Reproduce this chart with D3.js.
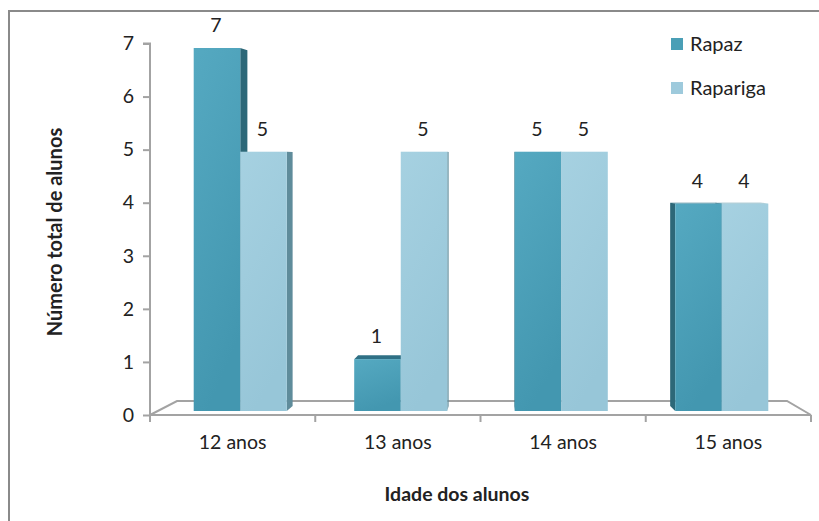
<!DOCTYPE html>
<html>
<head>
<meta charset="utf-8">
<script src="https://cdn.jsdelivr.net/npm/d3@7/dist/d3.min.js"></script>
<style>
  html, body { margin: 0; padding: 0; background: #fff; }
  svg { display: block; }
  text { font-family: Lato, "Open Sans", sans-serif; fill: #222; }
</style>
</head>
<body>
<svg id="chart" width="819" height="521"></svg>
<script>
// Students by age and sex
const categories = ["12 anos", "13 anos", "14 anos", "15 anos"];
const seriesNames = ["Rapaz", "Rapariga"];
const rapaz = [7, 1, 5, 4];
const rapariga = [5, 5, 5, 4];
const yTicks = [0, 1, 2, 3, 4, 5, 6, 7];

const W = 819, H = 521;
const svg = d3.select("#chart");

const colors = {
  Rapaz:    { front: ["#55a9c1", "#4397b0"], side: "#2d6878", top: "#2f7085", legend: "#4a9fb6" },
  Rapariga: { front: ["#a6d1e1", "#97c6d8"], side: "#5f8c9b", top: "#6e9fae", legend: "#9ecadc" }
};

// gradients for the bar front faces
const defs = svg.append("defs");
seriesNames.forEach(s => {
  const g = defs.append("linearGradient").attr("id", "grad-" + s)
    .attr("x1", "0").attr("y1", "0").attr("x2", "0.3").attr("y2", "1");
  g.append("stop").attr("offset", "0").attr("stop-color", colors[s].front[0]);
  g.append("stop").attr("offset", "1").attr("stop-color", colors[s].front[1]);
});

// outer frame
svg.append("rect").attr("x", 9).attr("y", 11).attr("width", 830).attr("height", 540)
  .attr("fill", "none").attr("stroke", "#8a8a8a").attr("stroke-width", 2);

// axis scales (front plane) and bar scales (mid-depth plane)
const y = d3.scaleLinear().domain([0, 7]).range([415, 43.5]);
const yBar = d3.scaleLinear().domain([0, 7]).range([411, 48]);
const x = d3.scaleBand().domain(categories).range([150, 811]);
const xBar = d3.scaleBand().domain(categories).range([160, 802])
  .paddingInner(0.42).paddingOuter(0.21);
const xSub = d3.scaleBand().domain(seriesNames).range([0, xBar.bandwidth()]);

const axisColor = "#a3a3a3";
const labelSize = "19.5px";

// 3D floor
const floorBackY = 401, floorLeft = 177, floorRight = 787;
svg.append("path")
  .attr("d", `M${x.range()[0]},${y(0)} L${floorLeft},${floorBackY} L${floorRight},${floorBackY} L${x.range()[1]},${y(0)}`)
  .attr("fill", "none").attr("stroke", axisColor).attr("stroke-width", 2);

// y axis
const yAxis = d3.axisLeft(y).tickValues(yTicks).tickSize(7).tickPadding(9).tickFormat(d3.format("d"));
const gy = svg.append("g").attr("transform", `translate(${x.range()[0]},0)`).call(yAxis);
gy.select(".domain").attr("stroke", axisColor).attr("stroke-width", 2)
  .attr("d", `M-7,${y(7)}H0V${y(0) + 6}`);
gy.selectAll(".tick line").attr("stroke", axisColor).attr("stroke-width", 2);
gy.selectAll(".tick text").style("font-size", labelSize).style("font-family", "Lato, sans-serif").attr("fill", "#222");

// x axis (front floor edge)
const xAxis = d3.axisBottom(x).tickSize(0).tickPadding(20);
const gx = svg.append("g").attr("transform", `translate(0,${y(0)})`).call(xAxis);
gx.select(".domain").attr("stroke", axisColor).attr("stroke-width", 2).attr("d", `M${x.range()[0]},0H${x.range()[1]}`);
gx.selectAll(".tick text").style("font-size", labelSize).style("font-family", "Lato, sans-serif").attr("fill", "#222");
const boundaries = categories.map(c => x(c)).concat([x.range()[1]]);
gx.selectAll(".bound").data(boundaries).enter().append("line")
  .attr("x1", d => d).attr("x2", d => d).attr("y1", 0).attr("y2", 7)
  .attr("stroke", axisColor).attr("stroke-width", 2);

// perspective helpers for bar depth
const vp = { x: 495, y: 160 };
const kx = 0.028, ky = 0.02;
const off = (px, py) => [(vp.x - px) * kx, (vp.y - py) * ky];

const bars = [];
categories.forEach((c, i) => {
  [["Rapaz", rapaz[i]], ["Rapariga", rapariga[i]]].forEach(([s, v]) => {
    const x0 = xBar(c) + xSub(s), x1 = x0 + xSub.bandwidth();
    bars.push({ c, s, v, x0, x1, top: yBar(v), bot: yBar(0) });
  });
});

const sideLayer = svg.append("g");
const frontLayer = svg.append("g");
const labelLayer = svg.append("g");

bars.forEach(b => {
  // visible side face: right side left of the vanishing point, left side otherwise
  const ex = b.x1 < vp.x ? b.x1 : (b.x0 > vp.x ? b.x0 : null);
  if (ex !== null) {
    const [dxT, dyT] = off(ex, b.top), [dxB, dyB] = off(ex, b.bot);
    sideLayer.append("path")
      .attr("d", `M${ex},${b.top} L${ex + dxT},${b.top + dyT} L${ex + dxB},${b.bot + dyB} L${ex},${b.bot} Z`)
      .attr("fill", colors[b.s].side);
  }
  // visible top face when the top sits below the vanishing point
  if (b.top > vp.y + 40) {
    const [dx0, dy0] = off(b.x0, b.top), [dx1, dy1] = off(b.x1, b.top);
    sideLayer.append("path")
      .attr("d", `M${b.x0},${b.top} L${b.x0 + dx0},${b.top + dy0} L${b.x1 + dx1},${b.top + dy1} L${b.x1},${b.top} Z`)
      .attr("fill", colors[b.s].top);
  }
  frontLayer.append("rect")
    .attr("x", b.x0).attr("y", b.top).attr("width", b.x1 - b.x0).attr("height", b.bot - b.top)
    .attr("fill", `url(#grad-${b.s})`);
  labelLayer.append("text")
    .attr("x", (b.x0 + b.x1) / 2 - 1).attr("y", b.top - 16)
    .attr("text-anchor", "middle").style("font-size", labelSize)
    .text(b.v);
});

// axis titles
svg.append("text").attr("x", 457).attr("y", 501).attr("text-anchor", "middle")
  .style("font-size", "19.5px").style("font-weight", "bold").text("Idade dos alunos");
svg.append("text").attr("transform", "translate(62,232) rotate(-90)").attr("text-anchor", "middle")
  .style("font-size", "20px").style("font-weight", "bold").text("Número total de alunos");

// legend
const legend = svg.append("g").attr("transform", "translate(671,38)");
seriesNames.forEach((s, i) => {
  const g = legend.append("g").attr("transform", `translate(0,${i * 44})`);
  g.append("rect").attr("width", 12).attr("height", 12).attr("fill", colors[s].legend);
  g.append("text").attr("x", 19).attr("y", 13).style("font-size", "20px").text(s);
});
</script>
</body>
</html>
